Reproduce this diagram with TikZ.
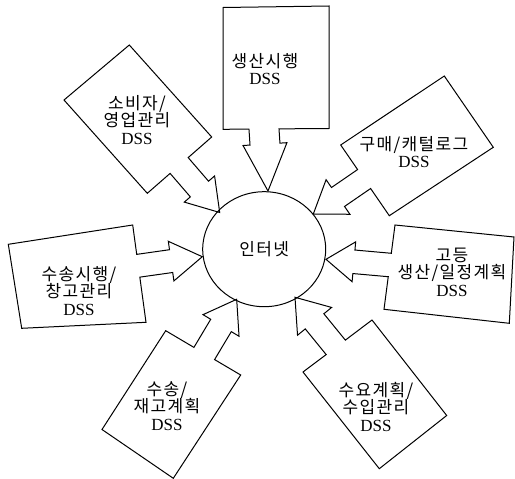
\documentclass[tikz,border=0pt]{standalone}
\usepackage{fontspec}
\usetikzlibrary{calc,shapes.geometric}
\newfontfamily\krfont[LetterSpace=8]{Noto Sans CJK KR}
\newfontfamily\dssfont{Liberation Serif}
\newcommand\DSS{{\dssfont DSS}}
% #1..#4 box corners (clockwise, #3--#4 = edge facing the circle), #5 tip, #6 shaft axis point on box edge,
% #7 shaft half width, #8 head half width, #9 head length
\newcommand\arrowbox[9]{%
  \coordinate (B1) at #1; \coordinate (B2) at #2;
  \coordinate (B3) at #3; \coordinate (B4) at #4;
  \coordinate (T) at #5;  \coordinate (A) at #6;
  \coordinate (Hc) at ($(T)!#9!(A)$);
  \coordinate (Ha) at ($(Hc)!#8!90:(T)$);
  \coordinate (Hb) at ($(Hc)!#8!-90:(T)$);
  \coordinate (Sa) at ($(Hc)!#7!90:(T)$);
  \coordinate (Sb) at ($(Hc)!#7!-90:(T)$);
  \coordinate (Fa) at ($(A)!#7!90:(T)$);
  \coordinate (Fb) at ($(A)!#7!-90:(T)$);
  \coordinate (Ea) at (intersection of Sa--Fa and B3--B4);
  \coordinate (Eb) at (intersection of Sb--Fb and B3--B4);
  \draw[arrowshape] (B1) -- (B2) -- (B3) -- (Ea) -- (Sa) -- (Ha) -- (T)
     -- (Hb) -- (Sb) -- (Eb) -- (B4) -- cycle;}
\begin{document}
\begin{tikzpicture}[x=1pt,y=-1pt,
  arrowshape/.style={draw=black, line width=1pt, fill=white},
  lbl/.style={align=center, inner sep=0pt, font=\krfont\fontsize{17}{17.5}\selectfont},
  hub/.style={draw=black, line width=1pt, ellipse, inner sep=0pt,
     minimum width=123pt, minimum height=115pt, font=\krfont\fontsize{17}{17.5}\selectfont}]
\useasboundingbox (0,0) rectangle (515,479);
% top: 생산시행
\arrowbox{(223,7.5)}{(329,6)}{(329,128.5)}{(223,129.3)}{(268,191)}{(264,129)}{15pt}{22pt}{47pt}
% upper right: 구매/캐털로그
\arrowbox{(444.3,76)}{(493.3,147.3)}{(389.3,215.7)}{(340.7,145)}{(313.3,214)}{(364.4,178.8)}{11.5pt}{21pt}{30pt}
% right: 고등 생산/일정계획
\arrowbox{(514,237)}{(509.3,323.3)}{(384,309.3)}{(395,225)}{(326,259.3)}{(389.8,265)}{11.8pt}{20pt}{28pt}
% lower right: 수요계획/수입관리
\arrowbox{(446.7,415.5)}{(379.3,468.7)}{(303,372)}{(372,320)}{(295,297.3)}{(334.5,345.8)}{12pt}{22pt}{31pt}
% lower left: 수송/재고계획
\arrowbox{(173.3,478.3)}{(102,429.5)}{(165.7,330.7)}{(240.7,375)}{(236.7,299.3)}{(204.5,353)}{12pt}{21pt}{30.5pt}
% left: 수송시행/창고관리
\arrowbox{(21.7,328.3)}{(8.3,244.3)}{(132.7,225)}{(146,322.3)}{(202.3,256.7)}{(140,265.5)}{11.5pt}{20pt}{31.5pt}
% upper left: 소비자/영업관리
\arrowbox{(64,100)}{(129.3,45)}{(211.7,137)}{(147.3,193.3)}{(219.7,212.5)}{(178.7,165)}{12pt}{20pt}{31pt}
% hub
\node[hub] (net) at (264.2,249.2) {인터넷};
% labels
\node[lbl] (t1) at (265,69) {생산시행\\\DSS};
\node[lbl] (t2) at (414,152) {구매/캐털로그\\\DSS};
\node[lbl] (t3) at (452,272) {고등\\생산/일정계획\\\DSS};
\node[lbl] (t4) at (376,407) {수요계획/\\수입관리\\\DSS};
\node[lbl] (t5) at (167,406) {수송/\\재고계획\\\DSS};
\node[lbl] (t6) at (79,291) {수송시행/\\창고관리\\\DSS};
\node[lbl] (t7) at (137,120) {소비자/\\영업관리\\\DSS};
\end{tikzpicture}
\end{document}
